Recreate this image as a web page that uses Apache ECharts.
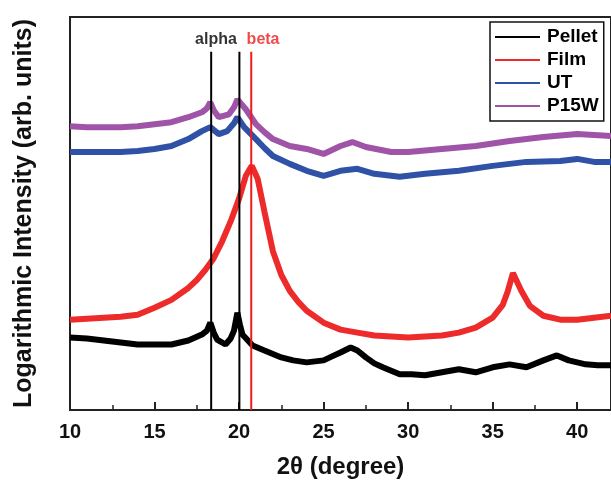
<!DOCTYPE html>
<html><head><meta charset="utf-8">
<script src="https://cdn.jsdelivr.net/npm/echarts@6/dist/echarts.min.js"></script>
<style>html,body{margin:0;padding:0;background:#fff}#c{width:611px;height:484px}</style>
</head><body><div id="c"></div>
<script>
// 2θ (degree), log intensity (arb. units, offset traces)
const pellet = [[10,73],[11,72],[12,70],[13,68],[14,66],[15,66],[16,66],[17,70],[17.8,76],[18.1,80],[18.3,88],[18.5,78],[18.7,71],[19.2,66],[19.5,72],[19.7,80],[19.9,98],[20.05,86],[20.2,76],[20.8,65],[21.5,60],[22.5,53],[23.2,50],[24,48],[25,50],[25.5,54],[26,58],[26.6,63],[27,60],[27.5,53],[28,47],[28.5,43],[29.5,36],[30.2,36],[31,35],[32,38],[33,41],[34,38],[35,43],[36,46],[37,43],[38,50],[38.8,55],[39.5,50],[40.5,46],[41.2,45],[42,45]];
const film = [[10,91],[11,92],[12,93],[13,94],[14,96],[15,103],[16,111],[17,123],[17.5,131],[18,141],[18.5,153],[19,170],[19.5,190],[20,213],[20.4,236],[20.75,246],[21.1,233],[21.5,200],[22,160],[22.5,136],[23,120],[23.5,109],[24,100],[25,88],[26,81],[27,78],[28,75],[29,74],[30,73],[31,74],[32,75],[33,78],[34,83],[35,93],[35.6,106],[35.9,120],[36.2,138],[36.7,120],[37.2,105],[38,95],[39,91],[40,91],[41,93],[42,95]];
const ut = [[10,260],[11,260],[12,260],[13,260],[14,261],[15,263],[16,266],[17,273],[17.8,281],[18.3,285],[18.8,278],[19.3,281],[19.7,289],[19.9,295],[20.3,285],[21,273],[21.5,264],[22,256],[23,248],[24,241],[25,236],[26,241],[27,243],[28,238],[29.5,235],[31,238],[33,241],[35,246],[37,250],[39,251],[40,253],[41,250],[42,250]];
const p15w = [[10,286],[11,285],[12,285],[13,285],[14,286],[15,288],[16,290],[17,295],[17.8,300],[18.1,304],[18.3,310],[18.5,302],[18.8,295],[19.4,298],[19.7,305],[19.9,313],[20.4,303],[21,288],[21.5,280],[22,273],[23,266],[24,263],[25,258],[26,266],[26.7,270],[27.5,265],[29,260],[30,260],[32,263],[34,266],[36,271],[38,275],[40,278],[41,277],[42,276]];
const refAlpha = [18.35, 20.02];
const refBeta = [20.72];
const refTop = 361;
const names = ['Pellet','Film','UT','P15W'];
const colors = ['#000000','#ee2b2b','#2f52a6','#a054a8'];
const xTicks = [10,15,20,25,30,35,40];

const chart = echarts.init(document.getElementById('c'), null, {renderer:'canvas'});
const font = '"Liberation Sans", Arial, sans-serif';
const dataSets = [pellet, film, ut, p15w];
const series = dataSets.map((d,i)=>({
  name:names[i], type:'line', data:d, showSymbol:false, symbol:'none',
  lineStyle:{color:colors[i], width:6}, itemStyle:{color:colors[i]}, z:2+i
}));
refAlpha.forEach(x=>series.push({type:'line', data:[[x,0],[x,refTop]], symbol:'none',
  lineStyle:{color:'#000', width:2}, z:10}));
refBeta.forEach(x=>series.push({type:'line', data:[[x,0],[x,refTop]], symbol:'none',
  lineStyle:{color:'#ee1c1c', width:2}, z:10}));
series.push({type:'scatter', symbolSize:0, z:11,
  data:[{value:[(refAlpha[0]+refAlpha[1])/2 - 0.55, refTop+12], label:{formatter:'alpha', color:'#000'}},
        {value:[refBeta[0]+0.7, refTop+12], label:{formatter:'beta', color:'#ee1c1c'}}],
  label:{show:true, position:'inside', fontFamily:font, fontWeight:'bold', fontSize:16}});

chart.setOption({
  animation:false,
  backgroundColor:'#fff',
  grid:{left:70, top:17, bottom:71, right:-2, show:true, borderColor:'#222', borderWidth:2},
  legend:{data:names, orient:'vertical', left:490, top:22, icon:'rect', itemWidth:45, itemHeight:2,
    itemGap:3, padding:[5,5,5,5], borderColor:'#111', borderWidth:1.5, backgroundColor:'#fff',
    textStyle:{fontFamily:font, fontWeight:'bold', fontSize:19, lineHeight:20, color:'#000', padding:[0,0,0,2]}},
  xAxis:{type:'value', min:10, max:42, interval:5,
    axisLine:{lineStyle:{color:'#222', width:2}},
    axisTick:{inside:true, length:8, lineStyle:{color:'#222', width:2}},
    minorTick:{show:true, splitNumber:2, length:5, lineStyle:{color:'#222', width:1.5}},
    splitLine:{show:false},
    axisLabel:{fontFamily:font, fontWeight:'bold', fontSize:20, color:'#111', margin:12,
      showMaxLabel:false,
      formatter:v=>xTicks.includes(v)?String(v):''},
    name:'2θ (degree)', nameLocation:'middle', nameGap:45,
    nameTextStyle:{fontFamily:font, fontWeight:'bold', fontSize:24, color:'#111'}},
  yAxis:{type:'value', min:0, max:396,
    axisLine:{show:true, lineStyle:{color:'#222', width:2}},
    axisTick:{show:false}, axisLabel:{show:false}, splitLine:{show:false},
    name:'Logarithmic Intensity (arb. units)', nameLocation:'middle', nameGap:33,
    nameTextStyle:{fontFamily:font, fontWeight:'bold', fontSize:25, color:'#111'}},
  series:series
});
</script></body></html>
